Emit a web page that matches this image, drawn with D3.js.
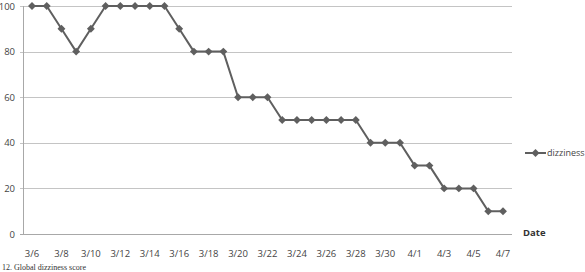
<!DOCTYPE html>
<html>
<head>
<meta charset="utf-8">
<script src="https://cdn.jsdelivr.net/npm/d3@7"></script>
<style>
  body { margin: 0; background: #fff; }
  svg { display: block; font-family: "Open Sans", "DejaVu Sans", sans-serif; }
</style>
</head>
<body>
<div id="vis"></div>
<script>
// dates, one point per day
const dates = ['3/6','3/7','3/8','3/9','3/10','3/11','3/12','3/13','3/14','3/15','3/16',
  '3/17','3/18','3/19','3/20','3/21','3/22','3/23','3/24','3/25','3/26','3/27','3/28',
  '3/29','3/30','3/31','4/1','4/2','4/3','4/4','4/5','4/6','4/7'];
const dizziness = [100,100,90,80,90,100,100,100,100,100,90,
  80,80,80,60,60,60,50,50,50,50,50,50,
  40,40,40,30,30,20,20,20,10,10];
const yTicks = [0, 20, 40, 60, 80, 100];
const seriesName = 'dizziness';

const width = 585;
const height = 272;
const plot = { left: 23, right: 512, top: 6, bottom: 234 };

const svg = d3.select('#vis').append('svg')
  .attr('width', width)
  .attr('height', height);

const x = d3.scalePoint()
  .domain(dates)
  .range([32, 503]);

const y = d3.scaleLinear()
  .domain([0, 100])
  .range([plot.bottom, plot.top]);

// gridlines
svg.append('g')
  .selectAll('line')
  .data(yTicks)
  .enter()
  .append('line')
  .attr('x1', plot.left - 3)
  .attr('x2', plot.right)
  .attr('y1', d => Math.round(y(d)) + 0.5)
  .attr('y2', d => Math.round(y(d)) + 0.5)
  .attr('stroke', d => d === 0 ? '#a8a8a8' : '#c4c4c4')
  .attr('stroke-width', 1);

// y axis line
svg.append('line')
  .attr('x1', plot.left + 0.5)
  .attr('x2', plot.left + 0.5)
  .attr('y1', plot.top)
  .attr('y2', plot.bottom)
  .attr('stroke', '#a8a8a8');

// y labels
svg.append('g')
  .selectAll('text')
  .data(yTicks)
  .enter()
  .append('text')
  .attr('x', 15)
  .attr('y', d => y(d) + 3.5)
  .attr('text-anchor', 'end')
  .style('font-size', '9.5px')
  .attr('fill', '#444')
  .text(d => d);

// x labels, every second day
svg.append('g')
  .selectAll('text')
  .data(dates.filter((d, i) => i % 2 === 0))
  .enter()
  .append('text')
  .attr('x', d => x(d))
  .attr('y', 257)
  .attr('text-anchor', 'middle')
  .style('font-size', '9.5px')
  .attr('fill', '#444')
  .text(d => d);

// the line
const line = d3.line()
  .x((d, i) => x(dates[i]))
  .y(d => y(d));

svg.append('path')
  .datum(dizziness)
  .attr('d', line)
  .attr('fill', 'none')
  .attr('stroke', '#5f5f5f')
  .attr('stroke-width', 2)
  .attr('stroke-linejoin', 'round');

const diamond = d3.symbol().type(d3.symbolDiamond2).size(40);

svg.append('g')
  .selectAll('path')
  .data(dizziness)
  .enter()
  .append('path')
  .attr('d', diamond)
  .attr('transform', (d, i) => `translate(${x(dates[i])},${y(d)})`)
  .attr('fill', '#5f5f5f');

// legend
svg.append('line')
  .attr('x1', 525).attr('x2', 546)
  .attr('y1', 153).attr('y2', 153)
  .attr('stroke', '#5f5f5f')
  .attr('stroke-width', 2);
svg.append('path')
  .attr('d', diamond)
  .attr('transform', 'translate(535.5,153)')
  .attr('fill', '#5f5f5f');
svg.append('text')
  .attr('x', 547)
  .attr('y', 156)
  .style('font-size', '9px')
  .attr('fill', '#444')
  .text(seriesName);

// axis title
svg.append('text')
  .attr('x', 523)
  .attr('y', 236)
  .style('font-size', '9.5px')
  .style('font-weight', 'bold')
  .attr('fill', '#333')
  .text('Date');

// caption below the chart
svg.append('text')
  .attr('x', 2)
  .attr('y', 269.5)
  .style('font-family', '"Liberation Serif", serif')
  .style('font-size', '8px')
  .attr('fill', '#333')
  .text('12. Global dizziness score');
</script>
</body>
</html>
